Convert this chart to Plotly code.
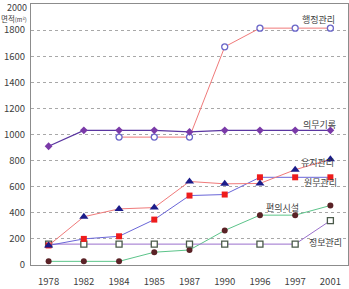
import plotly.graph_objects as go

years = ["1978", "1982", "1984", "1985", "1987", "1990", "1996", "1997", "2001"]

admin_years = ["1984", "1985", "1987", "1990", "1996", "1997", "2001"]
admin = [980, 980, 980, 1672, 1815, 1815, 1815]          # 행정관리
medrec = [910, 1032, 1032, 1032, 1020, 1032, 1032, 1032, 1032]  # 의무기록
maint = [150, 370, 430, 440, 640, 622, 625, 730, 810]       # 유지관리
office = [150, 200, 220, 348, 532, 540, 672, 672, 672]      # 원무관리
amenity = [28, 28, 28, 98, 115, 265, 382, 382, 456]         # 편의시설
info = [160, 160, 160, 160, 160, 160, 160, 160, 340]        # 정보관리

y_ticks = list(range(0, 1801, 200))
y_top = 2000

font = "Noto Sans CJK KR"
txt = "#404040"

idx = {y: i for i, y in enumerate(years)}

fig = go.Figure()

def add(x, y, name, lc, sym, mc, size, lw=1, open_=False):
    marker = dict(symbol=sym, size=size, color=mc)
    if open_:
        marker = dict(symbol=sym, size=size, color="white",
                      line=dict(color=mc, width=1.3))
    fig.add_trace(go.Scatter(x=[idx[v] for v in x], y=y, name=name,
                             mode="lines+markers",
                             line=dict(color=lc, width=lw), marker=marker,
                             showlegend=False))

add(years, amenity, "편의시설", "#5cc48a", "circle", "#5a2226", 6)
add(years, info, "정보관리", "#9a70cc", "square", "#4a5a4a", 6, open_=True)
add(years, office, "원무관리", "#6a66d8", "square", "#ee1c1c", 6)
add(years, maint, "유지관리", "#f07a7a", "triangle-up", "#1c1c8a", 8)
add(admin_years, admin, "행정관리", "#f07a7a", "circle", "#6a66c8", 6, open_=True)
add(years, medrec, "의무기록", "#5a36a0", "diamond", "#7a3aa8", 6, lw=1.3)

labels = [
    ("행정관리", "2001", 1880, -12),
    ("의무기록", "2001", 1080, -11),
    ("유지관리", "2001", 785, -13),
    ("원무관리", "2001", 630, -10),
    ("편의시설", "1996", 438, 23),
    ("정보관리", "2001", 175, -5),
]
for t, xx, yy, xs in labels:
    fig.add_annotation(x=idx[xx], y=yy, text=t, showarrow=False,
                       xanchor="center", xshift=xs,
                       font=dict(family=font, size=9, color=txt))

fig.add_annotation(xref="paper", x=0, y=1890, yref="y", xanchor="left",
                   xshift=-31, showarrow=False, borderpad=0,
                   text="면적<span style='font-size:6px'>(m²)</span>",
                   font=dict(family=font, size=7.5, color=txt))

fig.add_annotation(xref="paper", x=0, y=y_top, yref="y", xanchor="right",
                   yanchor="top", xshift=-3, yshift=4, showarrow=False,
                   text=str(y_top), borderpad=0,
                   font=dict(family=font, size=9, color=txt))

fig.update_xaxes(range=[-0.5, len(years) - 0.5],
                 tickvals=list(range(len(years))), ticktext=years,
                 showline=True, mirror=True, linecolor="#8c8c8c", linewidth=1,
                 showgrid=False, zeroline=False, ticks="outside", ticklen=8,
                 tickcolor="rgba(0,0,0,0)",
                 tickfont=dict(family=font, size=9.5, color=txt))
fig.update_yaxes(range=[0, y_top], tickvals=y_ticks, showline=True, mirror=True,
                 linecolor="#8c8c8c", linewidth=1, showgrid=True,
                 gridcolor="#a8a8a8", griddash="dot", gridwidth=1,
                 zeroline=False, ticks="", ticklabelstandoff=3,
                 tickfont=dict(family=font, size=9.5, color=txt))

fig.update_layout(width=349, height=289,
                  margin=dict(l=31, r=1, t=4, b=24),
                  plot_bgcolor="white", paper_bgcolor="white")

fig.write_html("out.html")
